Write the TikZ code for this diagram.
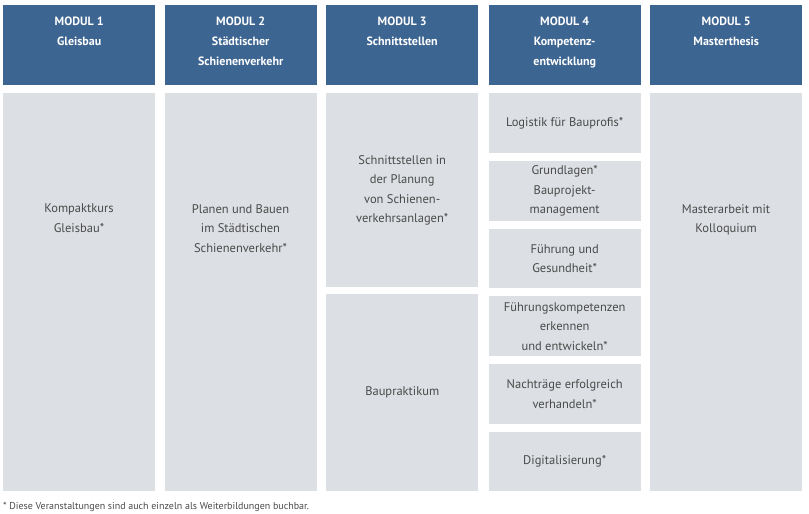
\documentclass[tikz,border=0pt]{standalone}
\usepackage{fontspec}
\setmainfont{PT Sans}
\definecolor{hd}{HTML}{3D6592}
\definecolor{bx}{HTML}{DCDFE3}
\definecolor{tx}{HTML}{4A4A4A}
\begin{document}
\begin{tikzpicture}[x=1pt,y=-1pt,
  hdr/.style={fill=hd,draw=none,anchor=north west,minimum width=152pt,minimum height=80pt,inner sep=0pt},
  htx/.style={anchor=north,text=white,font=\fontsize{12}{20}\selectfont\bfseries,align=center,inner sep=0pt},
  box/.style={fill=bx,draw=none,anchor=north west,minimum width=152pt,inner sep=0pt,text=tx,font=\fontsize{12.5}{19.5}\selectfont,align=center},
  btx/.style={anchor=north,text=tx,font=\fontsize{12.5}{19.5}\selectfont,align=center,inner sep=0pt}]
\useasboundingbox (0,0) rectangle (809,514);
% headers
\foreach \i/\x in {1/3,2/164.5,3/326,4/488.5,5/650}{
  \node[hdr] (h\i) at (\x,5) {};
}
\node[htx] (t1) at ([yshift=-12pt]h1.north) {MODUL 1\\Gleisbau};
\node[htx] (t2) at ([yshift=-12pt]h2.north) {MODUL 2\\Städtischer\\Schienenverkehr};
\node[htx] (t3) at ([yshift=-12pt]h3.north) {MODUL 3\\Schnittstellen};
\node[htx] (t4) at ([yshift=-12pt]h4.north) {MODUL 4\\Kompetenz-\\entwicklung};
\node[htx] (t5) at ([yshift=-12pt]h5.north) {MODUL 5\\Masterthesis};
% column bodies
\node[box,minimum height=398pt] (b1) at (3,93) {};
\node[box,minimum height=398pt] (b2) at (164.5,93) {};
\node[box,minimum height=398pt] (b5) at (650,93) {};
\node[btx] (c1) at (79,204) {Kompaktkurs\\Gleisbau*};
\node[btx] (c2) at (240.5,204) {Planen und Bauen\\im Städtischen\\Schienenverkehr*};
\node[btx] (c5) at (726,204) {Masterarbeit mit\\Kolloquium};
% column 3
\node[box,minimum height=194pt] (b3a) at (326,93) {Schnittstellen in\\der Planung\\von Schienen-\\verkehrsanlagen*};
\node[box,minimum height=197pt] (b3b) at (326,294) {Baupraktikum};
% column 4
\node[box,minimum height=60pt] (b4a) at (488.5,93) {Logistik für Bauprofis*};
\node[box,minimum height=60pt] (b4b) at (488.5,161) {Grundlagen*\\Bauprojekt-\\management};
\node[box,minimum height=59pt] (b4c) at (488.5,229) {Führung und\\Gesundheit*};
\node[box,minimum height=60pt] (b4d) at (488.5,296) {Führungskompetenzen\\erkennen\\und entwickeln*};
\node[box,minimum height=60pt] (b4e) at (488.5,364) {Nachträge erfolgreich\\verhandeln*};
\node[box,minimum height=59pt] (b4f) at (488.5,432) {Digitalisierung*};
% footnote
\node[anchor=west,text=tx,font=\fontsize{10}{12}\selectfont,inner sep=0pt] (fn) at (3,507) {* Diese Veranstaltungen sind auch einzeln als Weiterbildungen buchbar.};
\end{tikzpicture}
\end{document}
